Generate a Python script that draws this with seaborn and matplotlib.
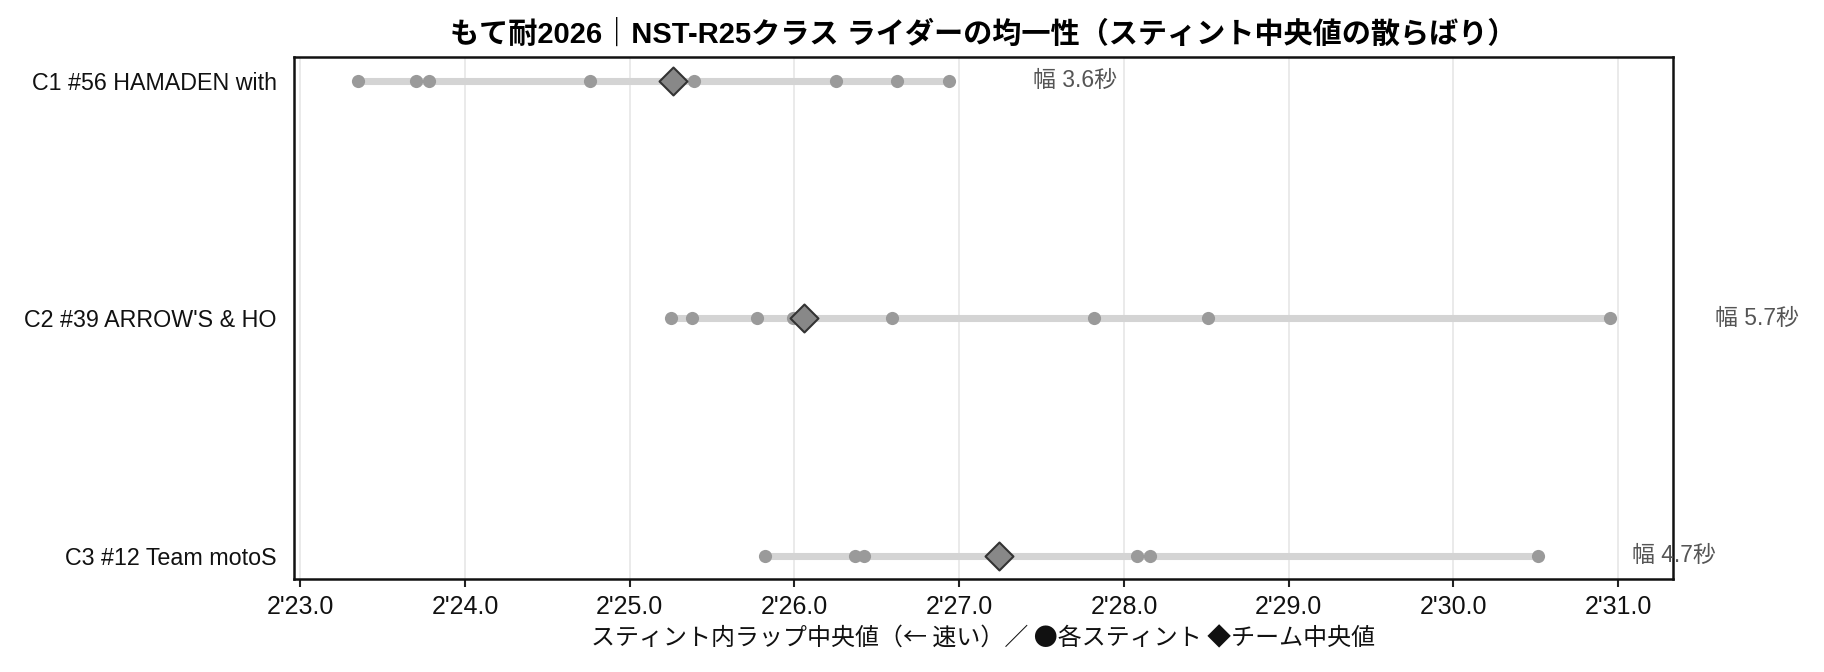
#!/usr/bin/env python

import matplotlib
matplotlib.use("Agg")
import matplotlib.pyplot as plt
import matplotlib.ticker as mticker
import pandas as pd
import seaborn as sns

sns.set_theme(style="white", rc={"text.color": "#111111", "axes.labelcolor": "#111111",
	"xtick.color": "#111111", "ytick.color": "#111111"})
plt.rcParams['font.family'] = ['Liberation Sans', 'Noto Sans CJK JP', 'DejaVu Sans']

## Data (stint median lap time, seconds)
teams = ["C1 #56 HAMADEN with", "C2 #39 ARROW'S & HO", "C3 #12 Team motoS"]
stints_c1 = [143.35, 143.70, 143.78, 144.76, 145.26, 145.39, 146.25, 146.62, 146.94]
stints_c2 = [145.25, 145.38, 145.77, 145.99, 146.06, 146.59, 147.82, 148.51, 150.95]
stints_c3 = [145.82, 146.37, 146.42, 148.08, 148.16, 150.51]
team_medians = [145.26, 146.06, 147.24]
spreads = [3.6, 5.7, 4.7]

rows = []
for i, vals in enumerate([stints_c1, stints_c2, stints_c3]):
	for v in vals:
		rows.append({"team": teams[i], "pos": i, "lap": v})
df = pd.DataFrame(rows)
med = pd.DataFrame({"team": teams, "pos": range(len(teams)), "lap": team_medians})

def lap_fmt(v, _):
	return "%d'%04.1f" % (v // 60, v % 60)

## Plot
fig, ax = plt.subplots(figsize=(12.16, 4.48), dpi=150)
fig.subplots_adjust(left=0.161, right=0.917, top=0.915, bottom=0.138)

ax.grid(axis="x", color="#e6e6e6", linewidth=0.8)
ax.set_axisbelow(True)

span = df.groupby("pos")["lap"].agg(["min", "max"])
ax.hlines(span.index, span["min"], span["max"], color="#d4d4d4", linewidth=3.4, zorder=1)

sns.scatterplot(data=df, x="lap", y="pos", color="#9a9a9a", s=40, linewidth=0, ax=ax, zorder=2)
sns.scatterplot(data=med, x="lap", y="pos", marker="D", color="#888888", s=90,
	edgecolor="#333333", linewidth=1.0, ax=ax, zorder=3)

for i, (lo, hi) in span.iterrows():
	ax.text(hi + 0.28 + 0.063 * (hi - lo), i, "幅 %.1f秒" % spreads[i],
		va="center", ha="left", fontsize=11, color="#555555", clip_on=False)

## Axis style
ax.set_xlim(df["lap"].min() - 0.39, df["lap"].max() + 0.38)
ax.set_ylim(2.1, -0.1)
ax.set_yticks(range(len(teams)))
ax.set_yticklabels(teams, fontsize=11.2)
ax.tick_params(axis="y", length=0, pad=8)
ax.tick_params(axis="x", length=4, width=1, labelsize=12, color="#222222", bottom=True)
ax.xaxis.set_major_locator(mticker.MultipleLocator(1.0))
ax.xaxis.set_major_formatter(mticker.FuncFormatter(lap_fmt))
for s in ax.spines.values():
	s.set_color("#111111")
	s.set_linewidth(1.2)

ax.set_xlabel("スティント内ラップ中央値（← 速い）／ ●各スティント ◆チーム中央値", fontsize=11.5,
	labelpad=4, family=['Noto Sans CJK JP', 'DejaVu Sans'])
ax.set_ylabel("")
ax.set_title("もて耐2026｜NST-R25クラス ライダーの均一性（スティント中央値の散らばり）",
	fontsize=14, fontweight="bold", pad=7, color="black")

fig.savefig("out.png", dpi=150)
